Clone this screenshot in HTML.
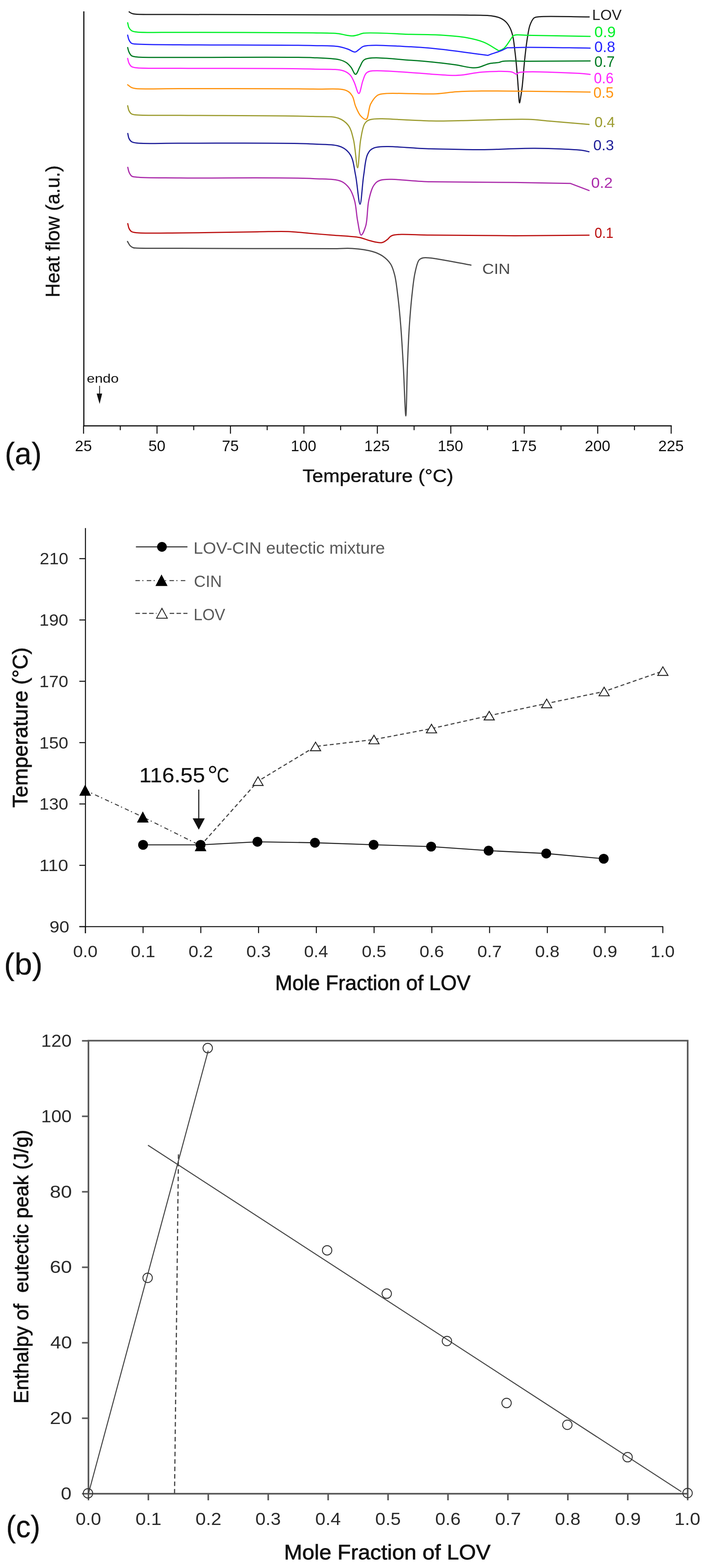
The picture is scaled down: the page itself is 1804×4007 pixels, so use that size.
<!DOCTYPE html>
<html><head><meta charset="utf-8"><title>Figure</title>
<style>
html,body{margin:0;padding:0;background:#fff;}
svg{display:block;}
text{font-family:"Liberation Sans", Arial, sans-serif;}
</style></head>
<body>
<svg width="1804" height="4007" viewBox="0 0 1804 4007">
<rect width="1804" height="4007" fill="#fff"/>
<g id="panelA">
<line x1="214.2" y1="29" x2="214.2" y2="1089.8" stroke="#111" stroke-width="3"/>
<line x1="212.7" y1="1088.3" x2="1716.5" y2="1088.3" stroke="#111" stroke-width="3"/>
<line x1="213.5" y1="1088.3" x2="213.5" y2="1108.3" stroke="#111" stroke-width="2.6"/>
<line x1="307.3" y1="1088.3" x2="307.3" y2="1099.3" stroke="#111" stroke-width="2.6"/>
<line x1="401.2" y1="1088.3" x2="401.2" y2="1108.3" stroke="#111" stroke-width="2.6"/>
<line x1="495.0" y1="1088.3" x2="495.0" y2="1099.3" stroke="#111" stroke-width="2.6"/>
<line x1="588.9" y1="1088.3" x2="588.9" y2="1108.3" stroke="#111" stroke-width="2.6"/>
<line x1="682.7" y1="1088.3" x2="682.7" y2="1099.3" stroke="#111" stroke-width="2.6"/>
<line x1="776.6" y1="1088.3" x2="776.6" y2="1108.3" stroke="#111" stroke-width="2.6"/>
<line x1="870.4" y1="1088.3" x2="870.4" y2="1099.3" stroke="#111" stroke-width="2.6"/>
<line x1="964.2" y1="1088.3" x2="964.2" y2="1108.3" stroke="#111" stroke-width="2.6"/>
<line x1="1058.1" y1="1088.3" x2="1058.1" y2="1099.3" stroke="#111" stroke-width="2.6"/>
<line x1="1151.9" y1="1088.3" x2="1151.9" y2="1108.3" stroke="#111" stroke-width="2.6"/>
<line x1="1245.8" y1="1088.3" x2="1245.8" y2="1099.3" stroke="#111" stroke-width="2.6"/>
<line x1="1339.6" y1="1088.3" x2="1339.6" y2="1108.3" stroke="#111" stroke-width="2.6"/>
<line x1="1433.5" y1="1088.3" x2="1433.5" y2="1099.3" stroke="#111" stroke-width="2.6"/>
<line x1="1527.3" y1="1088.3" x2="1527.3" y2="1108.3" stroke="#111" stroke-width="2.6"/>
<line x1="1621.2" y1="1088.3" x2="1621.2" y2="1099.3" stroke="#111" stroke-width="2.6"/>
<line x1="1715.0" y1="1088.3" x2="1715.0" y2="1108.3" stroke="#111" stroke-width="2.6"/>
<text x="191.5" y="1153.3" font-size="39" fill="#111" textLength="43.4" lengthAdjust="spacingAndGlyphs">25</text>
<text x="379.2" y="1153.3" font-size="39" fill="#111" textLength="43.4" lengthAdjust="spacingAndGlyphs">50</text>
<text x="566.9" y="1153.3" font-size="39" fill="#111" textLength="43.4" lengthAdjust="spacingAndGlyphs">75</text>
<text x="743.1" y="1153.3" font-size="39" fill="#111" textLength="65.1" lengthAdjust="spacingAndGlyphs">100</text>
<text x="930.8" y="1153.3" font-size="39" fill="#111" textLength="65.1" lengthAdjust="spacingAndGlyphs">125</text>
<text x="1118.4" y="1153.3" font-size="39" fill="#111" textLength="65.1" lengthAdjust="spacingAndGlyphs">150</text>
<text x="1306.1" y="1153.3" font-size="39" fill="#111" textLength="65.1" lengthAdjust="spacingAndGlyphs">175</text>
<text x="1494.3" y="1153.3" font-size="39" fill="#111" textLength="65.1" lengthAdjust="spacingAndGlyphs">200</text>
<text x="1682.0" y="1153.3" font-size="39" fill="#111" textLength="65.1" lengthAdjust="spacingAndGlyphs">225</text>
<text x="772.9" y="1232.2" font-size="47" fill="#111" textLength="385.6" lengthAdjust="spacingAndGlyphs" stroke="#111" stroke-width="0.6">Temperature (°C)</text>
<text transform="translate(152.2,760.0) rotate(-90)" x="0" y="0" font-size="50" fill="#111" textLength="337.2" lengthAdjust="spacingAndGlyphs" stroke="#111" stroke-width="0.6">Heat flow (a.u.)</text>
<text x="12.2" y="1185.6" font-size="77" fill="#111" textLength="94.2" lengthAdjust="spacingAndGlyphs" stroke="#111" stroke-width="0.4">(a)</text>
<text x="221.8" y="978.0" font-size="32" fill="#111" textLength="81.6" lengthAdjust="spacingAndGlyphs">endo</text>
<line x1="254.5" y1="985.9" x2="254.5" y2="1008" stroke="#111" stroke-width="2"/>
<path d="M247,1005.8 L261,1005.8 L254.5,1032.3 Z" fill="#111"/>
<path d="M330.0,30.3 C331.7,31.4 333.2,32.6 335.0,33.5 C336.9,34.4 338.8,35.0 341.0,35.5 C343.7,36.1 345.3,36.2 350.0,36.5 C366.3,37.4 412.1,36.8 460.0,37.0 C550.2,37.3 741.5,37.7 850.0,37.9 C927.7,38.0 989.0,38.0 1050.0,38.1 C1101.4,38.2 1153.8,37.9 1192.0,38.6 C1217.9,39.1 1241.5,38.5 1257.0,40.7 C1265.9,41.9 1271.4,43.2 1277.6,45.9 C1283.4,48.5 1288.7,51.9 1293.0,56.2 C1297.3,60.5 1300.6,65.9 1303.4,71.7 C1306.5,77.9 1308.4,84.1 1310.3,92.4 C1313.1,104.2 1314.6,121.1 1316.4,136.4 C1318.4,152.9 1320.1,171.9 1321.5,188.0 C1322.7,202.2 1323.5,215.1 1324.5,228.0 C1325.5,240.1 1326.1,262.9 1327.5,263.0 C1328.5,263.1 1329.9,251.5 1331.0,245.0 C1332.3,237.4 1333.3,230.5 1334.5,220.0 C1336.5,202.4 1338.6,171.0 1341.0,149.3 C1343.0,130.7 1345.0,112.9 1347.5,97.6 C1349.5,85.2 1350.8,73.3 1354.3,64.0 C1357.0,56.8 1360.1,49.3 1364.6,45.9 C1368.2,43.2 1371.0,43.6 1377.6,42.8 C1398.2,40.4 1462.9,43.1 1505.6,43.3" fill="none" stroke="#1e1e1e" stroke-width="3" stroke-linejoin="round" stroke-linecap="round"/>
<path d="M326.2,58.1 C327.3,62.2 327.6,66.9 329.4,70.4 C331.0,73.5 333.2,76.4 335.9,78.2 C338.7,80.1 340.8,80.6 346.2,81.4 C363.7,84.2 411.9,82.3 460.0,82.7 C543.1,83.3 731.0,82.8 800.0,84.0 C830.2,84.5 849.6,84.2 865.0,86.0 C873.6,87.0 878.7,89.0 885.0,90.0 C890.6,90.9 895.9,92.0 901.0,91.8 C905.8,91.6 910.4,90.2 915.0,89.0 C919.7,87.8 921.9,85.7 929.0,84.8 C949.4,82.1 1014.1,86.9 1050.0,87.8 C1078.7,88.5 1102.9,88.2 1127.6,89.8 C1150.1,91.2 1172.9,92.8 1192.2,96.3 C1208.4,99.2 1222.3,102.3 1236.2,107.9 C1249.9,113.5 1262.1,122.6 1275.0,129.9 C1279.3,127.7 1283.5,127.2 1287.9,123.4 C1295.3,117.1 1303.4,101.9 1311.2,91.1 C1313.5,90.5 1314.9,89.7 1318.0,89.3 C1324.7,88.5 1335.3,89.9 1350.0,90.3 C1382.7,91.1 1455.3,92.0 1508.0,92.9" fill="none" stroke="#00f028" stroke-width="3" stroke-linejoin="round" stroke-linecap="round"/>
<path d="M326.2,89.8 C327.3,93.7 327.7,98.0 329.4,101.5 C331.0,104.9 333.1,108.7 335.9,110.5 C338.6,112.3 340.8,111.9 346.0,112.5 C363.4,114.4 411.9,113.9 460.0,114.4 C543.1,115.3 731.1,114.8 800.0,116.4 C830.2,117.1 848.5,116.4 865.0,119.0 C875.4,120.6 882.5,123.4 890.0,126.0 C896.3,128.2 902.0,133.4 907.0,133.0 C911.2,132.6 914.4,128.4 918.0,126.0 C921.7,123.6 922.9,120.3 929.0,118.4 C947.3,112.8 1014.2,117.9 1050.0,119.6 C1078.8,120.9 1100.8,123.2 1127.6,126.0 C1156.6,129.1 1196.3,134.9 1218.0,137.7 C1230.2,139.3 1237.0,140.2 1246.5,141.5 C1250.0,140.2 1252.8,139.1 1256.9,137.7 C1262.6,135.7 1272.4,132.7 1277.6,130.7 C1280.8,129.4 1282.6,128.6 1285.3,127.3 C1288.5,125.8 1292.2,123.8 1295.7,122.1 C1313.8,121.7 1327.2,121.0 1350.0,120.9 C1388.9,120.7 1455.3,122.2 1508.0,122.9" fill="none" stroke="#2424ff" stroke-width="3" stroke-linejoin="round" stroke-linecap="round"/>
<path d="M326.2,121.5 C327.3,125.2 327.8,129.1 329.4,132.5 C331.0,136.0 333.0,140.1 335.9,142.2 C338.6,144.2 340.7,144.4 346.0,145.2 C363.4,147.8 411.9,146.3 460.0,146.7 C543.1,147.3 730.3,144.6 800.0,147.4 C831.0,148.6 851.9,149.0 867.0,152.6 C875.1,154.5 879.9,156.6 885.0,160.0 C889.8,163.2 893.3,167.4 897.0,172.0 C901.2,177.2 904.8,190.1 908.6,190.0 C912.5,189.9 916.0,176.4 920.0,170.0 C923.8,163.8 924.2,156.1 932.0,152.0 C950.3,142.4 1014.8,152.1 1050.0,154.0 C1078.6,155.5 1106.2,158.6 1127.6,161.0 C1142.8,162.7 1153.5,164.1 1166.4,166.1 C1179.4,168.1 1195.2,172.4 1205.2,173.1 C1211.5,173.6 1214.7,173.7 1220.7,172.6 C1229.4,171.0 1242.0,164.3 1251.7,162.2 C1259.9,160.4 1268.8,160.9 1275.0,159.6 C1279.2,158.7 1280.3,157.2 1285.3,156.5 C1297.5,154.7 1323.7,156.6 1350.0,156.5 C1391.1,156.4 1455.3,156.0 1508.0,155.8" fill="none" stroke="#007a22" stroke-width="3" stroke-linejoin="round" stroke-linecap="round"/>
<path d="M326.2,149.3 C327.3,153.2 327.7,157.5 329.4,161.0 C331.0,164.4 333.1,168.0 335.9,170.0 C338.6,171.9 340.7,172.2 346.0,173.0 C363.4,175.6 411.9,174.0 460.0,174.5 C543.1,175.3 726.7,174.0 800.0,176.4 C835.0,177.5 861.4,175.8 877.6,181.0 C886.0,183.7 890.4,187.2 895.0,192.0 C899.6,196.8 901.7,203.2 905.0,210.0 C909.1,218.4 913.4,239.2 917.0,239.0 C920.7,238.8 923.6,216.2 927.0,207.0 C929.6,199.8 931.3,192.2 935.0,188.0 C937.8,184.8 939.6,183.4 945.0,182.0 C961.3,177.8 1021.1,183.9 1050.0,185.5 C1070.3,186.6 1084.0,188.2 1101.7,189.4 C1120.2,190.6 1143.3,192.7 1158.6,192.7 C1168.9,192.7 1174.6,192.2 1184.5,191.2 C1197.8,189.8 1213.5,185.5 1231.0,184.2 C1253.5,182.5 1294.9,181.0 1308.6,184.2 C1313.9,185.4 1315.9,189.5 1319.0,189.4 C1321.6,189.3 1321.9,186.5 1325.9,185.5 C1343.7,180.9 1450.6,185.9 1481.0,187.6 C1493.7,188.3 1499.0,189.3 1508.0,190.2" fill="none" stroke="#ff26ff" stroke-width="3" stroke-linejoin="round" stroke-linecap="round"/>
<path d="M326.2,216.6 C329.4,219.0 332.5,222.1 335.9,223.7 C339.1,225.2 340.7,225.6 346.0,226.3 C363.4,228.5 411.9,226.4 460.0,226.5 C543.1,226.7 724.5,225.8 800.0,227.6 C837.8,228.5 868.8,224.7 885.0,231.4 C892.9,234.6 896.2,239.1 900.0,245.0 C904.5,251.9 905.0,263.0 908.6,271.5 C912.2,280.0 916.2,290.3 921.5,296.0 C925.6,300.5 932.0,306.5 935.8,305.0 C941.8,302.7 941.4,276.8 947.0,266.0 C951.8,256.8 958.3,247.4 965.5,243.0 C971.6,239.3 977.2,239.8 986.0,239.0 C1001.4,237.6 1028.6,239.2 1050.0,239.3 C1071.5,239.4 1094.3,240.7 1114.6,239.8 C1132.8,239.0 1148.2,235.8 1166.4,234.6 C1186.7,233.3 1206.2,232.9 1231.0,232.6 C1264.7,232.2 1307.5,232.9 1350.0,233.3 C1398.9,233.7 1455.3,234.6 1508.0,235.2" fill="none" stroke="#ff9410" stroke-width="3" stroke-linejoin="round" stroke-linecap="round"/>
<path d="M326.2,270.2 C327.3,274.3 327.7,278.9 329.4,282.5 C331.0,285.8 333.1,289.2 335.9,291.0 C338.7,292.8 340.8,292.8 346.0,293.5 C363.4,295.7 411.9,294.3 460.0,294.8 C543.1,295.6 731.2,295.0 800.0,297.6 C830.0,298.7 848.5,296.1 864.6,302.0 C875.9,306.1 884.1,312.4 890.5,321.0 C897.5,330.5 899.8,343.2 903.4,357.6 C908.2,377.2 910.8,428.8 913.8,428.7 C916.8,428.6 917.8,378.0 921.5,357.6 C924.3,341.8 926.4,324.6 932.0,316.0 C935.5,310.7 937.9,308.4 944.8,306.0 C962.5,300.0 1021.1,306.3 1050.0,307.0 C1070.3,307.5 1082.7,308.8 1101.7,309.1 C1124.9,309.5 1148.4,308.8 1179.3,308.3 C1225.1,307.6 1309.6,303.7 1350.0,305.0 C1372.3,305.7 1381.5,307.6 1401.7,309.3 C1430.3,311.7 1470.7,315.1 1505.2,318.0" fill="none" stroke="#9c9c30" stroke-width="3" stroke-linejoin="round" stroke-linecap="round"/>
<path d="M326.5,341.1 C327.6,345.5 327.9,350.6 329.8,354.3 C331.4,357.5 333.4,360.4 336.4,362.3 C339.8,364.4 343.0,364.8 349.6,365.6 C368.4,368.0 413.1,365.8 460.0,366.0 C542.3,366.4 728.5,364.0 800.0,368.0 C833.1,369.9 855.7,368.3 872.4,375.7 C883.3,380.5 889.9,386.8 895.7,396.4 C903.3,409.0 904.8,429.2 908.6,448.0 C913.1,470.3 916.5,521.8 920.0,521.8 C923.4,521.8 925.7,470.7 929.3,448.0 C932.4,428.5 933.3,405.8 939.6,393.8 C943.6,386.2 946.1,381.9 955.0,378.3 C978.0,368.9 1053.1,379.6 1100.0,380.3 C1144.3,381.0 1185.5,382.8 1229.3,382.6 C1274.5,382.4 1322.8,378.7 1367.2,379.1 C1408.8,379.5 1466.1,381.6 1488.0,384.3 C1496.3,385.3 1499.3,386.6 1505.0,387.8" fill="none" stroke="#1e1e98" stroke-width="3" stroke-linejoin="round" stroke-linecap="round"/>
<path d="M326.5,427.6 C327.6,431.8 328.1,436.4 329.8,440.2 C331.4,443.8 333.3,447.9 336.4,450.0 C339.7,452.2 343.0,452.0 349.6,452.7 C368.5,454.8 413.1,454.2 460.0,454.7 C542.3,455.7 728.5,452.7 800.0,456.4 C833.1,458.1 856.3,456.6 872.4,463.6 C882.3,467.9 887.5,474.1 893.0,481.7 C899.1,490.1 902.7,500.8 906.0,512.7 C910.2,527.5 910.7,548.8 913.8,564.5 C916.4,577.7 918.9,600.3 922.8,600.7 C926.1,601.1 931.5,587.4 934.5,577.4 C939.3,561.5 938.1,531.3 942.2,512.7 C945.5,498.0 948.9,482.9 955.0,474.0 C959.3,467.7 962.1,464.0 970.7,461.0 C992.4,453.5 1051.4,463.7 1100.0,464.5 C1162.7,465.6 1251.1,465.4 1315.5,466.2 C1367.8,466.9 1410.4,467.9 1457.8,468.8 L1505.2,486.9" fill="none" stroke="#aa2aaa" stroke-width="3" stroke-linejoin="round" stroke-linecap="round"/>
<path d="M326.5,571.5 C327.6,575.7 328.0,580.5 329.8,584.0 C331.4,587.2 333.4,590.2 336.4,592.0 C339.8,594.0 343.0,594.0 349.6,594.7 C368.5,596.7 417.9,595.5 460.0,595.3 C516.2,595.0 605.9,593.0 656.9,592.4 C689.2,592.0 711.8,590.8 736.2,591.7 C757.2,592.5 775.6,595.0 794.8,596.6 C813.5,598.1 830.6,599.4 850.0,601.0 C871.7,602.8 901.7,603.6 919.0,607.0 C929.8,609.1 935.7,612.9 944.8,615.0 C954.6,617.3 967.7,621.5 975.8,620.0 C981.7,619.0 985.6,615.1 990.0,612.0 C994.2,609.0 995.2,604.4 1001.7,602.0 C1018.1,595.8 1060.9,600.8 1100.0,600.7 C1157.9,600.5 1246.0,602.4 1315.5,602.4 C1380.7,602.4 1442.0,601.5 1505.2,601.1" fill="none" stroke="#bb1010" stroke-width="3" stroke-linejoin="round" stroke-linecap="round"/>
<path d="M325.8,617.1 C328.0,620.6 329.8,625.0 332.4,627.7 C334.7,630.1 337.5,632.0 340.4,633.0 C343.2,634.0 344.8,633.7 349.6,634.0 C366.1,634.9 412.0,634.3 460.0,634.5 C550.3,634.8 781.5,635.8 850.0,635.5 C874.5,635.4 883.2,633.7 900.0,634.9 C917.1,636.1 937.6,638.6 951.7,642.7 C962.1,645.7 969.9,649.0 977.6,654.3 C985.4,659.7 993.1,666.9 998.3,675.0 C1003.5,683.2 1005.8,692.4 1008.6,703.4 C1012.3,717.9 1014.0,736.0 1016.4,755.0 C1019.3,778.2 1021.8,804.9 1024.0,832.7 C1026.6,864.7 1028.5,899.8 1030.6,936.0 C1032.9,976.1 1035.3,1062.9 1037.0,1062.9 C1038.7,1062.9 1039.4,976.1 1041.0,936.0 C1042.4,899.8 1043.9,864.7 1046.0,832.7 C1047.9,804.9 1050.0,778.9 1052.6,755.0 C1054.9,734.5 1056.7,714.3 1060.3,698.0 C1063.1,685.3 1065.7,670.7 1070.7,664.6 C1073.6,661.1 1076.9,660.0 1081.0,659.0 C1086.2,657.7 1091.2,658.5 1100.0,659.3 C1120.7,661.3 1168.9,671.4 1203.4,677.4" fill="none" stroke="#4a4a4a" stroke-width="3" stroke-linejoin="round" stroke-linecap="round"/>
<text x="1512.9" y="51.0" font-size="36.6" fill="#1e1e1e" textLength="75.6" lengthAdjust="spacingAndGlyphs">LOV</text>
<text x="1518.8" y="95.0" font-size="38" fill="#00f028" textLength="54.6" lengthAdjust="spacingAndGlyphs">0.9</text>
<text x="1518.8" y="133.0" font-size="38" fill="#2424ff" textLength="53.3" lengthAdjust="spacingAndGlyphs">0.8</text>
<text x="1518.8" y="171.3" font-size="38" fill="#007a22" textLength="52.0" lengthAdjust="spacingAndGlyphs">0.7</text>
<text x="1517.5" y="212.7" font-size="38" fill="#ff26ff" textLength="50.6" lengthAdjust="spacingAndGlyphs">0.6</text>
<text x="1516.2" y="249.6" font-size="38" fill="#ff9410" textLength="52.0" lengthAdjust="spacingAndGlyphs">0.5</text>
<text x="1519.3" y="325.3" font-size="37" fill="#9c9c30" textLength="52.0" lengthAdjust="spacingAndGlyphs">0.4</text>
<text x="1516.1" y="384.3" font-size="36" fill="#1e1e98" textLength="52.7" lengthAdjust="spacingAndGlyphs">0.3</text>
<text x="1510.5" y="480.4" font-size="36" fill="#aa2aaa" textLength="55.2" lengthAdjust="spacingAndGlyphs">0.2</text>
<text x="1519.3" y="607.6" font-size="36" fill="#bb1010" textLength="48.1" lengthAdjust="spacingAndGlyphs">0.1</text>
<text x="1232.2" y="700.3" font-size="36" fill="#4a4a4a" textLength="71.7" lengthAdjust="spacingAndGlyphs">CIN</text>
</g>
<g id="panelB">
<line x1="218.3" y1="1349.4" x2="218.3" y2="2385" stroke="#111" stroke-width="2.6"/>
<line x1="202.7" y1="2368" x2="1694.8" y2="2368" stroke="#111" stroke-width="2.6"/>
<line x1="202.7" y1="2368.0" x2="218.3" y2="2368.0" stroke="#111" stroke-width="2.6"/>
<text x="126.5" y="2382.7" font-size="43" fill="#2a2a2a" textLength="50.6" lengthAdjust="spacingAndGlyphs">90</text>
<line x1="202.7" y1="2211.3" x2="218.3" y2="2211.3" stroke="#111" stroke-width="2.6"/>
<text x="100.4" y="2226.0" font-size="43" fill="#2a2a2a" textLength="74.0" lengthAdjust="spacingAndGlyphs">110</text>
<line x1="202.7" y1="2054.5" x2="218.3" y2="2054.5" stroke="#111" stroke-width="2.6"/>
<text x="100.5" y="2069.2" font-size="43" fill="#2a2a2a" textLength="74.0" lengthAdjust="spacingAndGlyphs">130</text>
<line x1="202.7" y1="1897.8" x2="218.3" y2="1897.8" stroke="#111" stroke-width="2.6"/>
<text x="100.5" y="1912.5" font-size="43" fill="#2a2a2a" textLength="74.0" lengthAdjust="spacingAndGlyphs">150</text>
<line x1="202.7" y1="1741.0" x2="218.3" y2="1741.0" stroke="#111" stroke-width="2.6"/>
<text x="100.5" y="1755.7" font-size="43" fill="#2a2a2a" textLength="74.0" lengthAdjust="spacingAndGlyphs">170</text>
<line x1="202.7" y1="1584.3" x2="218.3" y2="1584.3" stroke="#111" stroke-width="2.6"/>
<text x="100.5" y="1599.0" font-size="43" fill="#2a2a2a" textLength="74.0" lengthAdjust="spacingAndGlyphs">190</text>
<line x1="202.7" y1="1427.6" x2="218.3" y2="1427.6" stroke="#111" stroke-width="2.6"/>
<text x="101.6" y="1442.3" font-size="43" fill="#2a2a2a" textLength="72.9" lengthAdjust="spacingAndGlyphs">210</text>
<line x1="218.0" y1="2368" x2="218.0" y2="2384.5" stroke="#111" stroke-width="2.6"/>
<text x="186.7" y="2445.5" font-size="43" fill="#2a2a2a" textLength="62.5" lengthAdjust="spacingAndGlyphs">0.0</text>
<line x1="365.6" y1="2368" x2="365.6" y2="2384.5" stroke="#111" stroke-width="2.6"/>
<text x="334.2" y="2445.5" font-size="43" fill="#2a2a2a" textLength="62.5" lengthAdjust="spacingAndGlyphs">0.1</text>
<line x1="513.1" y1="2368" x2="513.1" y2="2384.5" stroke="#111" stroke-width="2.6"/>
<text x="481.8" y="2445.5" font-size="43" fill="#2a2a2a" textLength="62.5" lengthAdjust="spacingAndGlyphs">0.2</text>
<line x1="660.7" y1="2368" x2="660.7" y2="2384.5" stroke="#111" stroke-width="2.6"/>
<text x="629.4" y="2445.5" font-size="43" fill="#2a2a2a" textLength="62.5" lengthAdjust="spacingAndGlyphs">0.3</text>
<line x1="808.3" y1="2368" x2="808.3" y2="2384.5" stroke="#111" stroke-width="2.6"/>
<text x="777.0" y="2445.5" font-size="43" fill="#2a2a2a" textLength="61.4" lengthAdjust="spacingAndGlyphs">0.4</text>
<line x1="955.9" y1="2368" x2="955.9" y2="2384.5" stroke="#111" stroke-width="2.6"/>
<text x="924.5" y="2445.5" font-size="43" fill="#2a2a2a" textLength="62.5" lengthAdjust="spacingAndGlyphs">0.5</text>
<line x1="1103.4" y1="2368" x2="1103.4" y2="2384.5" stroke="#111" stroke-width="2.6"/>
<text x="1072.1" y="2445.5" font-size="43" fill="#2a2a2a" textLength="62.5" lengthAdjust="spacingAndGlyphs">0.6</text>
<line x1="1251.0" y1="2368" x2="1251.0" y2="2384.5" stroke="#111" stroke-width="2.6"/>
<text x="1219.7" y="2445.5" font-size="43" fill="#2a2a2a" textLength="62.5" lengthAdjust="spacingAndGlyphs">0.7</text>
<line x1="1398.6" y1="2368" x2="1398.6" y2="2384.5" stroke="#111" stroke-width="2.6"/>
<text x="1367.2" y="2445.5" font-size="43" fill="#2a2a2a" textLength="62.5" lengthAdjust="spacingAndGlyphs">0.8</text>
<line x1="1546.1" y1="2368" x2="1546.1" y2="2384.5" stroke="#111" stroke-width="2.6"/>
<text x="1514.8" y="2445.5" font-size="43" fill="#2a2a2a" textLength="62.5" lengthAdjust="spacingAndGlyphs">0.9</text>
<line x1="1693.7" y1="2368" x2="1693.7" y2="2384.5" stroke="#111" stroke-width="2.6"/>
<text x="1662.3" y="2445.5" font-size="43" fill="#2a2a2a" textLength="61.6" lengthAdjust="spacingAndGlyphs">1.0</text>
<text x="702.9" y="2529.7" font-size="53" fill="#111" textLength="499.4" lengthAdjust="spacingAndGlyphs" stroke="#111" stroke-width="1.0">Mole Fraction of LOV</text>
<text transform="translate(70.3,2064.1) rotate(-90)" x="0" y="0" font-size="53.5" fill="#111" textLength="409.7" lengthAdjust="spacingAndGlyphs" stroke="#111" stroke-width="1.0">Temperature (°C)</text>
<text x="10.3" y="2491.4" font-size="77" fill="#111" textLength="98.5" lengthAdjust="spacingAndGlyphs" stroke="#111" stroke-width="0.4">(b)</text>
<polyline points="217.5,2019.3 364.9,2087.7 512.5,2161" fill="none" stroke="#444" stroke-width="2.6" stroke-dasharray="11 6 3 8"/>
<polyline points="512.5,2161 659.3,1996.2 806.3,1907.5 955.6,1889.9 1102.6,1861.9 1250.1,1828.8 1396.9,1797.7 1543.7,1767.1 1693.8,1715" fill="none" stroke="#444" stroke-width="2.8" stroke-dasharray="10 6.5"/>
<polyline points="365.6,2159 512.5,2159 657.8,2151.2 804.8,2153.6 954.7,2158.8 1101.7,2163.5 1248.5,2173.8 1395.8,2181.1 1542.6,2194.5" fill="none" stroke="#222" stroke-width="2.6"/>
<path d="M659.3,1985.2 L672.3,2007.2 L646.3,2007.2 Z" fill="#fff" stroke="#222" stroke-width="2.4" stroke-linejoin="miter"/>
<path d="M806.3,1896.5 L819.3,1918.5 L793.3,1918.5 Z" fill="#fff" stroke="#222" stroke-width="2.4" stroke-linejoin="miter"/>
<path d="M955.6,1878.9 L968.6,1900.9 L942.6,1900.9 Z" fill="#fff" stroke="#222" stroke-width="2.4" stroke-linejoin="miter"/>
<path d="M1102.6,1850.9 L1115.6,1872.9 L1089.6,1872.9 Z" fill="#fff" stroke="#222" stroke-width="2.4" stroke-linejoin="miter"/>
<path d="M1250.1,1817.8 L1263.1,1839.8 L1237.1,1839.8 Z" fill="#fff" stroke="#222" stroke-width="2.4" stroke-linejoin="miter"/>
<path d="M1396.9,1786.7 L1409.9,1808.7 L1383.9,1808.7 Z" fill="#fff" stroke="#222" stroke-width="2.4" stroke-linejoin="miter"/>
<path d="M1543.7,1756.1 L1556.7,1778.1 L1530.7,1778.1 Z" fill="#fff" stroke="#222" stroke-width="2.4" stroke-linejoin="miter"/>
<path d="M1693.8,1704.0 L1706.8,1726.0 L1680.8,1726.0 Z" fill="#fff" stroke="#222" stroke-width="2.4" stroke-linejoin="miter"/>
<circle cx="365.6" cy="2159" r="12.6" fill="#000"/>
<circle cx="512.5" cy="2159" r="12.6" fill="#000"/>
<circle cx="657.8" cy="2151.2" r="12.6" fill="#000"/>
<circle cx="804.8" cy="2153.6" r="12.6" fill="#000"/>
<circle cx="954.7" cy="2158.8" r="12.6" fill="#000"/>
<circle cx="1101.7" cy="2163.5" r="12.6" fill="#000"/>
<circle cx="1248.5" cy="2173.8" r="12.6" fill="#000"/>
<circle cx="1395.8" cy="2181.1" r="12.6" fill="#000"/>
<circle cx="1542.6" cy="2194.5" r="12.6" fill="#000"/>
<path d="M217.5,2005.0 L232.5,2033.5 L202.5,2033.5 Z" fill="#000" stroke-linejoin="miter"/>
<path d="M364.9,2073.4 L379.9,2101.9 L349.9,2101.9 Z" fill="#000" stroke-linejoin="miter"/>
<path d="M512.5,2146.8 L527.5,2175.2 L497.5,2175.2 Z" fill="#000" stroke-linejoin="miter"/>
<text x="355.8" y="1998.7" font-size="51" fill="#111" textLength="167.9" lengthAdjust="spacingAndGlyphs" stroke="#111" stroke-width="0.3">116.55</text>
<text x="530.1" y="2004.6" font-size="68" fill="#111" textLength="26.6" lengthAdjust="spacingAndGlyphs">°</text>
<text x="554.0" y="1998.7" font-size="51" fill="#111" textLength="31.6" lengthAdjust="spacingAndGlyphs" stroke="#111" stroke-width="0.3">C</text>
<line x1="507.9" y1="2017.8" x2="507.9" y2="2093" stroke="#111" stroke-width="2.6"/>
<path d="M492.3,2091.3 L523.3,2091.3 L507.9,2120.3 Z" fill="#111"/>
<line x1="347.3" y1="1397.5" x2="479" y2="1397.5" stroke="#222" stroke-width="2.6"/>
<circle cx="413.8" cy="1397.5" r="12.4" fill="#000"/>
<line x1="346" y1="1483.8" x2="479" y2="1483.8" stroke="#444" stroke-width="2.6" stroke-dasharray="11.5 6 3 8.5"/>
<path d="M412.7,1467.9 L428.2,1497.5 L397.2,1497.5 Z" fill="#000" stroke-linejoin="miter"/>
<line x1="346" y1="1567.5" x2="479" y2="1567.5" stroke="#555" stroke-width="3.2" stroke-dasharray="11.5 6"/>
<rect x="400" y="1550" width="28" height="32" fill="#fff"/>
<path d="M413.8,1554.6 L427.6,1579.8 L400.1,1579.8 Z" fill="#fff" stroke="#222" stroke-width="2.2" stroke-linejoin="miter"/>
<text x="494.5" y="1414.9" font-size="43" fill="#595959" textLength="489.2" lengthAdjust="spacingAndGlyphs">LOV-CIN eutectic mixture</text>
<text x="495.6" y="1500.4" font-size="43" fill="#595959" textLength="71.4" lengthAdjust="spacingAndGlyphs">CIN</text>
<text x="494.7" y="1585.3" font-size="43" fill="#595959" textLength="80.9" lengthAdjust="spacingAndGlyphs">LOV</text>
</g>
<g id="panelC">
<rect x="226" y="2659.4" width="1531.2" height="1157.8" fill="none" stroke="#585858" stroke-width="4.2"/>
<line x1="209.5" y1="3817.2" x2="226" y2="3817.2" stroke="#585858" stroke-width="4"/>
<text x="155.4" y="3832.1" font-size="45" fill="#2a2a2a" textLength="27.2" lengthAdjust="spacingAndGlyphs">0</text>
<line x1="209.5" y1="3624.3" x2="226" y2="3624.3" stroke="#585858" stroke-width="4"/>
<text x="127.3" y="3639.2" font-size="45" fill="#2a2a2a" textLength="56.5" lengthAdjust="spacingAndGlyphs">20</text>
<line x1="209.5" y1="3431.4" x2="226" y2="3431.4" stroke="#585858" stroke-width="4"/>
<text x="128.5" y="3446.3" font-size="45" fill="#2a2a2a" textLength="55.3" lengthAdjust="spacingAndGlyphs">40</text>
<line x1="209.5" y1="3238.5" x2="226" y2="3238.5" stroke="#585858" stroke-width="4"/>
<text x="127.3" y="3253.4" font-size="45" fill="#2a2a2a" textLength="56.5" lengthAdjust="spacingAndGlyphs">60</text>
<line x1="209.5" y1="3045.6" x2="226" y2="3045.6" stroke="#585858" stroke-width="4"/>
<text x="127.3" y="3060.5" font-size="45" fill="#2a2a2a" textLength="56.5" lengthAdjust="spacingAndGlyphs">80</text>
<line x1="209.5" y1="2852.7" x2="226" y2="2852.7" stroke="#585858" stroke-width="4"/>
<text x="104.9" y="2867.6" font-size="45" fill="#2a2a2a" textLength="78.1" lengthAdjust="spacingAndGlyphs">100</text>
<line x1="209.5" y1="2659.8" x2="226" y2="2659.8" stroke="#585858" stroke-width="4"/>
<text x="104.9" y="2674.7" font-size="45" fill="#2a2a2a" textLength="78.1" lengthAdjust="spacingAndGlyphs">120</text>
<line x1="226.0" y1="3817.2" x2="226.0" y2="3834" stroke="#585858" stroke-width="4"/>
<text x="193.2" y="3896.8" font-size="45" fill="#2a2a2a" textLength="65.2" lengthAdjust="spacingAndGlyphs">0.0</text>
<line x1="379.1" y1="3817.2" x2="379.1" y2="3834" stroke="#585858" stroke-width="4"/>
<text x="346.2" y="3896.8" font-size="45" fill="#2a2a2a" textLength="66.3" lengthAdjust="spacingAndGlyphs">0.1</text>
<line x1="532.2" y1="3817.2" x2="532.2" y2="3834" stroke="#585858" stroke-width="4"/>
<text x="499.4" y="3896.8" font-size="45" fill="#2a2a2a" textLength="66.3" lengthAdjust="spacingAndGlyphs">0.2</text>
<line x1="685.4" y1="3817.2" x2="685.4" y2="3834" stroke="#585858" stroke-width="4"/>
<text x="652.5" y="3896.8" font-size="45" fill="#2a2a2a" textLength="65.2" lengthAdjust="spacingAndGlyphs">0.3</text>
<line x1="838.5" y1="3817.2" x2="838.5" y2="3834" stroke="#585858" stroke-width="4"/>
<text x="805.6" y="3896.8" font-size="45" fill="#2a2a2a" textLength="65.2" lengthAdjust="spacingAndGlyphs">0.4</text>
<line x1="991.6" y1="3817.2" x2="991.6" y2="3834" stroke="#585858" stroke-width="4"/>
<text x="958.8" y="3896.8" font-size="45" fill="#2a2a2a" textLength="65.2" lengthAdjust="spacingAndGlyphs">0.5</text>
<line x1="1144.7" y1="3817.2" x2="1144.7" y2="3834" stroke="#585858" stroke-width="4"/>
<text x="1111.9" y="3896.8" font-size="45" fill="#2a2a2a" textLength="65.2" lengthAdjust="spacingAndGlyphs">0.6</text>
<line x1="1297.8" y1="3817.2" x2="1297.8" y2="3834" stroke="#585858" stroke-width="4"/>
<text x="1265.0" y="3896.8" font-size="45" fill="#2a2a2a" textLength="66.3" lengthAdjust="spacingAndGlyphs">0.7</text>
<line x1="1451.0" y1="3817.2" x2="1451.0" y2="3834" stroke="#585858" stroke-width="4"/>
<text x="1418.1" y="3896.8" font-size="45" fill="#2a2a2a" textLength="65.2" lengthAdjust="spacingAndGlyphs">0.8</text>
<line x1="1604.1" y1="3817.2" x2="1604.1" y2="3834" stroke="#585858" stroke-width="4"/>
<text x="1571.2" y="3896.8" font-size="45" fill="#2a2a2a" textLength="66.3" lengthAdjust="spacingAndGlyphs">0.9</text>
<line x1="1757.2" y1="3817.2" x2="1757.2" y2="3834" stroke="#585858" stroke-width="4"/>
<text x="1723.3" y="3896.8" font-size="45" fill="#2a2a2a" textLength="66.3" lengthAdjust="spacingAndGlyphs">1.0</text>
<text x="725.7" y="3984.8" font-size="54.5" fill="#111" textLength="527.8" lengthAdjust="spacingAndGlyphs" stroke="#111" stroke-width="1.0">Mole Fraction of LOV</text>
<text transform="translate(72.2,3586.7) rotate(-90)" x="0" y="0" font-size="51.3" fill="#111" textLength="699.3" lengthAdjust="spacingAndGlyphs" stroke="#111" stroke-width="1.0">Enthalpy of&#160;&#160;eutectic peak (J/g)</text>
<text x="15.8" y="3927.6" font-size="77" fill="#111" textLength="87.1" lengthAdjust="spacingAndGlyphs" stroke="#111" stroke-width="0.4">(c)</text>
<line x1="226" y1="3817" x2="532" y2="2685" stroke="#444" stroke-width="2.6"/>
<line x1="378.1" y1="2926.6" x2="1741" y2="3812" stroke="#444" stroke-width="2.6"/>
<line x1="456" y1="2950" x2="446" y2="3817" stroke="#444" stroke-width="3" stroke-dasharray="11.5 7.5"/>
<circle cx="224.8" cy="3816.2" r="12" fill="none" stroke="#333" stroke-width="2.4"/>
<circle cx="377.2" cy="3265.5" r="12" fill="none" stroke="#333" stroke-width="2.4"/>
<circle cx="530.8" cy="2678.3" r="12" fill="none" stroke="#333" stroke-width="2.4"/>
<circle cx="835.9" cy="3195.2" r="12" fill="none" stroke="#333" stroke-width="2.4"/>
<circle cx="988.2" cy="3305.8" r="12" fill="none" stroke="#333" stroke-width="2.4"/>
<circle cx="1142" cy="3427" r="12" fill="none" stroke="#333" stroke-width="2.4"/>
<circle cx="1294.4" cy="3585.3" r="12" fill="none" stroke="#333" stroke-width="2.4"/>
<circle cx="1449.7" cy="3641" r="12" fill="none" stroke="#333" stroke-width="2.4"/>
<circle cx="1603.6" cy="3723.8" r="12" fill="none" stroke="#333" stroke-width="2.4"/>
<circle cx="1756.9" cy="3815.5" r="12" fill="none" stroke="#333" stroke-width="2.4"/>
</g>
</svg>
</body></html>
